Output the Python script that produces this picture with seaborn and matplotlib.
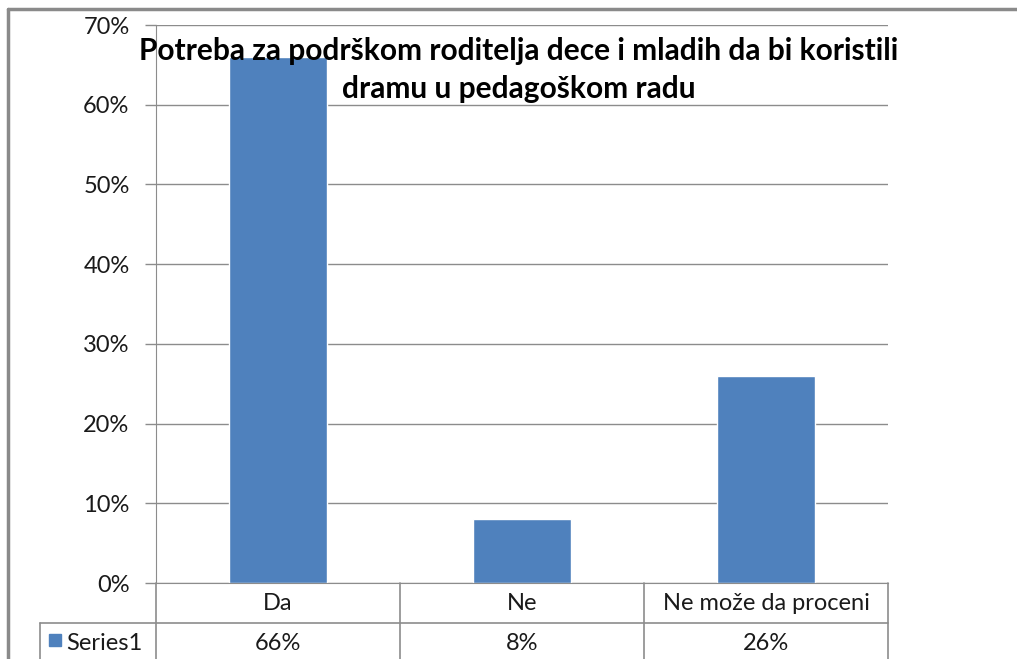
import matplotlib
matplotlib.use("Agg")
import matplotlib.pyplot as plt
import seaborn as sns
from matplotlib.lines import Line2D
from matplotlib.patches import Rectangle
import matplotlib.transforms as mtransforms

categories = ["Da", "Ne", "Ne može da proceni"]
values = [0.66, 0.08, 0.26]
value_labels = ["66%", "8%", "26%"]
series_name = "Series1"
yticks = [0.0, 0.1, 0.2, 0.3, 0.4, 0.5, 0.6, 0.7]
ytick_labels = ["0%", "10%", "20%", "30%", "40%", "50%", "60%", "70%"]
title = "Potreba za podrškom roditelja dece i mladih da bi koristili\ndramu u pedagoškom radu"

sns.set_style("white")
plt.rcParams['font.family'] = ['Lato', 'DejaVu Sans']

W, H = 1017, 659
fig = plt.figure(figsize=(W / 100, H / 100), dpi=100)

def fx(px):
    return px / W

def fy(py):
    return 1 - py / H

bar_color = "#4F81BD"
grid_color = "#8C8C8C"
text_color = "#1A1A1A"
fs = 17

left, right, top, bottom = 156, 888, 25, 583
ax = fig.add_axes([fx(left), fy(bottom), fx(right - left), (bottom - top) / H])

sns.barplot(x=categories, y=values, color=bar_color, saturation=1, width=0.4, ax=ax)
ax.set_xlim(-0.5, len(categories) - 0.5)
ax.set_ylim(0, 0.7)
ax.set_yticks(yticks)
ax.set_yticklabels(ytick_labels, fontsize=fs, color=text_color)
ax.set_xticks([])
ax.set_xlabel("")
ax.set_ylabel("")
ax.yaxis.grid(True, color=grid_color, linewidth=1)
ax.set_axisbelow(True)
for s in ["top", "right"]:
    ax.spines[s].set_visible(False)
ax.spines["left"].set_color(grid_color)
ax.spines["bottom"].set_color(grid_color)
ax.tick_params(axis="y", length=8, color=grid_color, width=1, pad=11, left=True)

# Title
fig.text(fx(519), fy(70), title, ha="center", va="center", fontsize=21.5,
         fontweight="bold", color="#000000", linespacing=1.42)

# Data table
lw = 1.2
def hline(y, x0, x1):
    fig.add_artist(Line2D([fx(x0), fx(x1)], [fy(y), fy(y)], color=grid_color, lw=lw))

def vline(x, y0, y1):
    fig.add_artist(Line2D([fx(x), fx(x)], [fy(y0), fy(y1)], color=grid_color, lw=lw))

hline(623, 40, right)
vline(40, 623, H + 5)
vline(left, bottom, H + 5)
vline(right, bottom, H + 5)
trans = mtransforms.blended_transform_factory(ax.transData, fig.transFigure)
for i in range(1, len(categories)):
    xpix = left + (right - left) * i / len(categories)
    vline(xpix, bottom, H + 5)
for i, (c, v) in enumerate(zip(categories, value_labels)):
    fig.text(i, fy(603), c, transform=trans, ha="center", va="center", fontsize=fs, color=text_color)
    fig.text(i, fy(643), v, transform=trans, ha="center", va="center", fontsize=fs, color=text_color)

# legend key
fig.add_artist(Rectangle((fx(49), fy(646)), fx(12), 12 / H, color=bar_color))
fig.text(fx(66), fy(643), series_name, ha="left", va="center", fontsize=fs, color=text_color)

# outer border
fig.add_artist(Line2D([fx(8), fx(8)], [fy(9), 0], color="#8A8A8A", lw=2.5))
fig.add_artist(Line2D([fx(8), 1], [fy(9), fy(9)], color="#8A8A8A", lw=2.5))

fig.savefig("out.png", dpi=100)
